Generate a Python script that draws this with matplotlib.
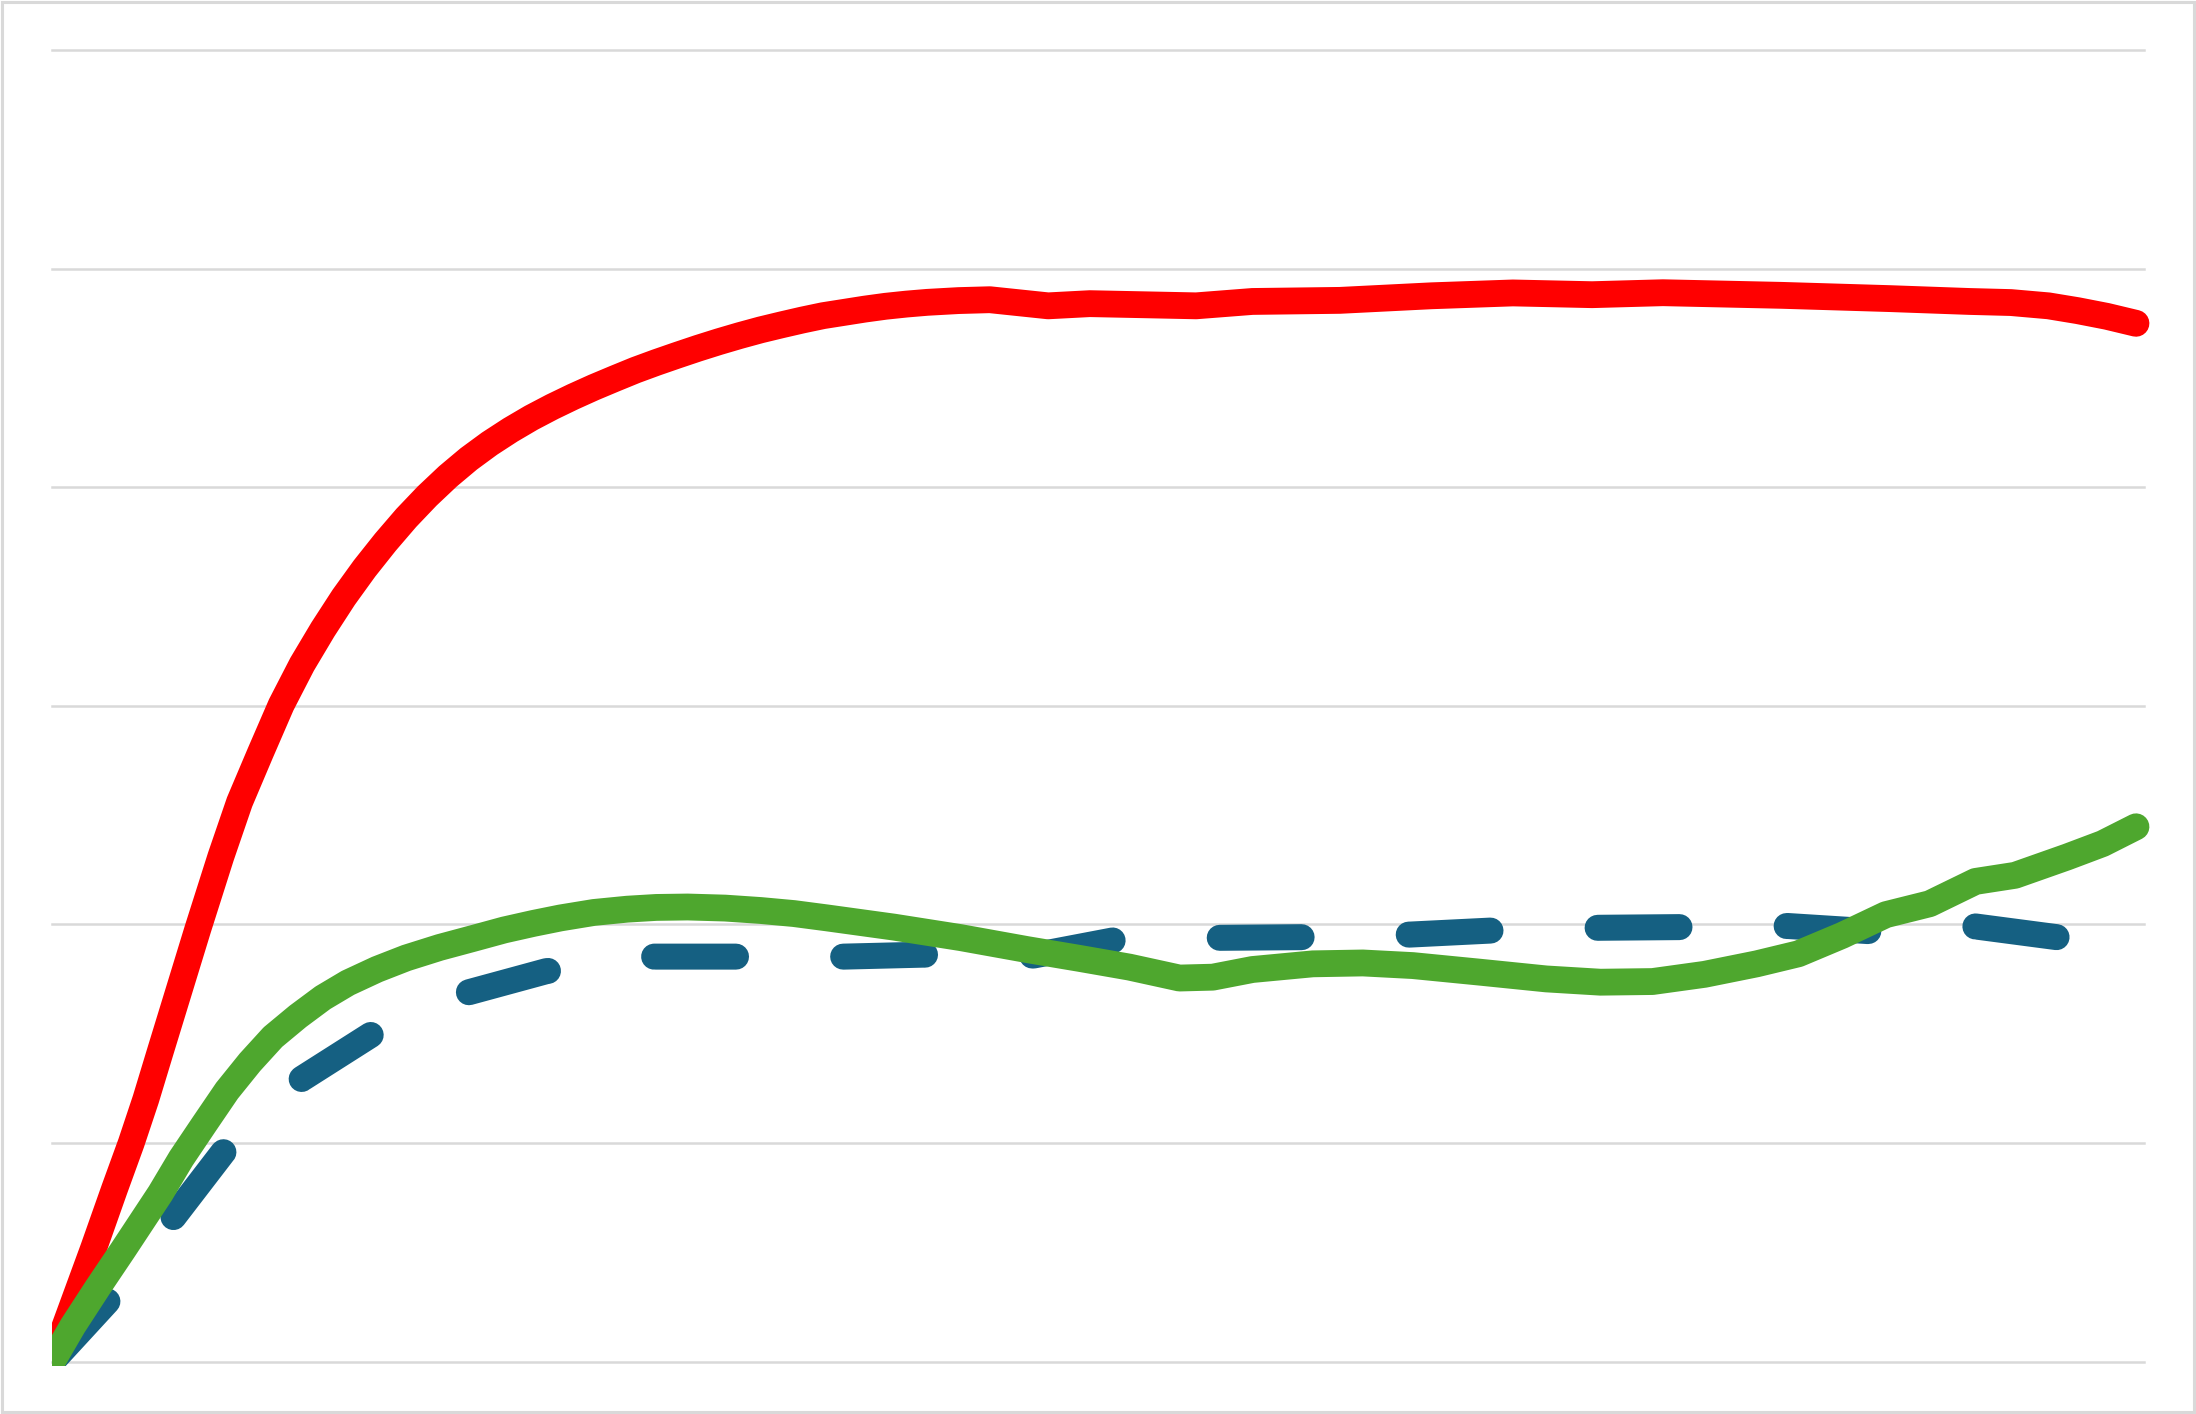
import matplotlib
matplotlib.use('Agg')
import matplotlib.pyplot as plt
from matplotlib.patches import Rectangle

# 数据
x_red = [0.0, 1.0, 2.0, 3.0, 3.8, 4.5, 5.2, 6.1, 7.0, 8.1, 9.0, 10.0, 11.0, 12.0, 13.0,
         14.0, 15.0, 16.0, 17.0, 18.0, 19.0, 20.0, 21.0, 22.0, 23.0, 24.0, 25.0, 26.0,
         27.0, 28.0, 29.0, 30.0, 31.0, 32.0, 33.0, 34.0, 35.0, 36.0, 37.0, 38.0, 39.0,
         40.0, 41.0, 42.0, 43.5, 45.0, 47.8, 49.8, 54.9, 57.6, 61.8, 66.2, 70.1, 73.9,
         77.3, 83.0, 88.2, 92.0, 94.0, 95.8, 97.2, 98.6, 100.0]
red = [0.00, 0.26, 0.52, 0.79, 1.00, 1.20, 1.42, 1.70, 1.98, 2.31, 2.56, 2.785, 3.005, 3.19, 3.35,
       3.497, 3.629, 3.749, 3.86, 3.96, 4.05, 4.13, 4.20, 4.262, 4.318, 4.368, 4.414, 4.457,
       4.497, 4.536, 4.571, 4.604, 4.636, 4.666, 4.694, 4.72, 4.743, 4.765, 4.785, 4.80, 4.815,
       4.828, 4.838, 4.846, 4.854, 4.858, 4.83, 4.84, 4.83, 4.85, 4.855, 4.876, 4.889, 4.881,
       4.89, 4.878, 4.863, 4.85, 4.845, 4.83, 4.808, 4.782, 4.75]

x_blue = [0.0, 2.7, 4.2, 5.8, 8.2, 10.1, 12.0, 15.3, 17.7, 20.0, 23.7, 26.3, 28.9, 32.8,
          35.4, 38.0, 41.8, 44.5, 47.1, 50.9, 53.4, 56.0, 60.0, 62.5, 65.2, 69.0, 71.6,
          74.3, 78.1, 80.8, 83.3, 87.1, 89.6, 92.3, 96.2, 98.3, 100.0]
blue = [0.00, 0.28, 0.47, 0.658, 0.956, 1.13, 1.295, 1.495, 1.60, 1.69, 1.786, 1.825, 1.853, 1.853,
        1.852, 1.853, 1.862, 1.858, 1.858, 1.927, 1.935, 1.939, 1.942, 1.945, 1.954, 1.972, 1.98,
        1.985, 1.988, 1.99, 1.993, 1.97, 1.975, 1.991, 1.942, 1.925, 1.92]

x_green = [0.0, 1.0, 2.2, 3.4, 4.3, 5.2, 6.2, 7.3, 8.4, 9.5, 10.6, 11.8, 13.0, 14.2, 15.6,
           17.0, 18.6, 20.2, 21.7, 23.1, 24.4, 26.0, 27.6, 29.0, 30.5, 32.3, 34.0, 35.6,
           37.2, 40.4, 43.6, 46.8, 49.3, 51.7, 54.1, 55.7, 57.6, 60.5, 62.9, 65.3, 68.5,
           71.7, 74.3, 76.8, 79.3, 81.8, 83.8, 85.9, 88.0, 90.1, 92.3, 94.2, 96.7, 98.4, 100.0]
green = [0.000, 0.164, 0.34, 0.51, 0.64, 0.77, 0.93, 1.086, 1.24, 1.37, 1.485, 1.58, 1.665, 1.733, 1.795,
         1.847, 1.895, 1.936, 1.975, 2.005, 2.03, 2.055, 2.07, 2.078, 2.08, 2.075, 2.064, 2.05,
         2.03, 1.988, 1.94, 1.885, 1.845, 1.805, 1.755, 1.759, 1.794, 1.82, 1.824, 1.812, 1.782,
         1.751, 1.736, 1.739, 1.772, 1.82, 1.866, 1.95, 2.045, 2.095, 2.197, 2.225, 2.309, 2.37, 2.447]

y_ticks = [0, 1, 2, 3, 4, 5, 6]

fig = plt.figure(figsize=(21.96, 14.14), dpi=100)
ax = fig.add_axes([0.02368, 0.03699, 0.9526, 0.9276])
ax.set_xlim(0, 100.38)
ax.set_ylim(0, 6)
ax.set_yticks(y_ticks)
ax.set_xticks([])
ax.grid(axis='y', color='#D9D9D9', lw=1.8)
for gl in ax.get_ygridlines():
    gl.set_clip_on(False)
ax.set_axisbelow(True)
ax.tick_params(length=0, labelleft=False, labelbottom=False)
for s in ax.spines.values():
    s.set_visible(False)

# 线条：左下裁剪，右端圆头不裁剪
clip = Rectangle((0, -0.003), 1.03, 1.05, transform=ax.transAxes, fill=False)
lw = 19.3
l1, = ax.plot(x_red, red, color='#FF0000', lw=lw, solid_capstyle='round', solid_joinstyle='round')
l2, = ax.plot(x_blue, blue, color='#156082', lw=lw * 0.97, dashes=(3.15, 4.12),
              dash_capstyle='round', dash_joinstyle='round')
l3, = ax.plot(x_green, green, color='#4EA72E', lw=lw, solid_capstyle='round', solid_joinstyle='round')
for ln in (l1, l2, l3):
    ln.set_clip_path(clip)

# 图表外框
fig.patches.append(Rectangle((0.0007, 0.0011), 0.9986, 0.9978, transform=fig.transFigure,
                             fill=False, edgecolor='#D9D9D9', lw=2.2))

fig.savefig('out.png', dpi=100)
